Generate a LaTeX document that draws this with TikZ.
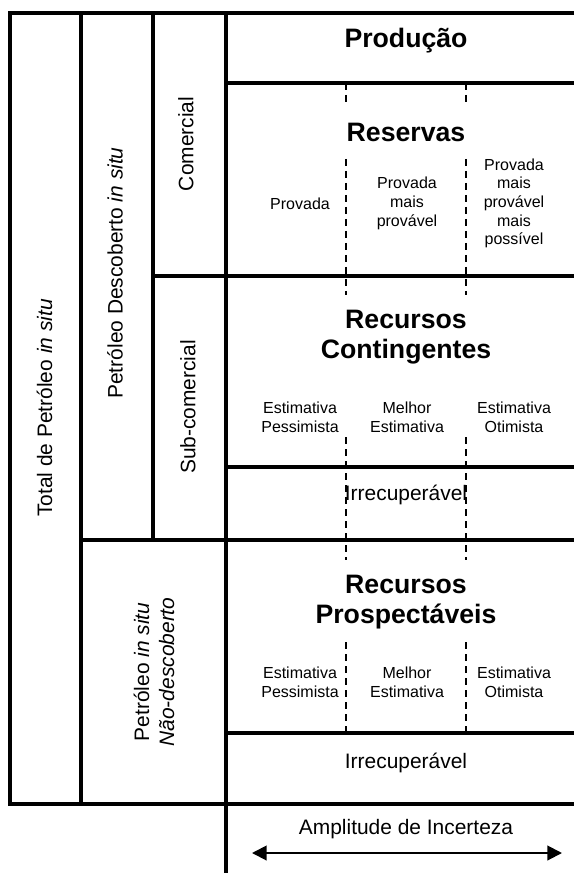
\documentclass[tikz,border=0pt]{standalone}
\usepackage{fontspec}
\setmainfont{Liberation Sans}
\usetikzlibrary{arrows.meta}
\begin{document}
\begin{tikzpicture}[x=0.75pt,y=-0.75pt,
    gridline/.style={line width=2.5pt},
    dashline/.style={line width=1.4pt,dash pattern=on 5pt off 4pt},
    titletxt/.style={font=\bfseries\fontsize{20}{22.5}\selectfont,align=center},
    smalltxt/.style={font=\fontsize{12}{14}\selectfont,align=center},
    bigtxt/.style={font=\fontsize{15.7}{18.8}\selectfont,align=center},
    sidetxt/.style={bigtxt,rotate=90}]
  \useasboundingbox (0,0) rectangle (574,873);
  % linhas tracejadas (amplitude)
  \foreach \xd in {346,466}
    \foreach \ya/\yb in {83/103,159/295,437/560,642/733}
      \draw[dashline] (\xd,\ya) -- (\xd,\yb);
  % quadro
  \draw[gridline] (574,13) -- (10,13) -- (10,804) -- (574,804);
  \draw[gridline] (81,13) -- (81,804);
  \draw[gridline] (153,13) -- (153,540);
  \draw[gridline] (226,13) -- (226,873);
  \foreach \yl/\xl in {83/226,276/153,467/226,540/81,733/226}
    \draw[gridline] (\xl,\yl) -- (574,\yl);
  % colunas da esquerda
  \node[sidetxt] (total) at (44.5,408) {Total de Petróleo \textit{in situ}};
  \node[sidetxt] (desc) at (115,273) {Petróleo Descoberto \textit{in situ}};
  \node[sidetxt] (com) at (186,144) {Comercial};
  \node[sidetxt] (subcom) at (188,407) {Sub-comercial};
  \node[sidetxt] (naodesc) at (154,672) {Petróleo \textit{in situ}\\\textit{Não-descoberto}};
  % producao e reservas
  \node[titletxt] (prod) at (406,41) {Produção};
  \node[titletxt] (res) at (406,132) {Reservas};
  \node[smalltxt] (res1) at (300,203.5) {Provada};
  \node[smalltxt] (res2) at (407,203.5) {Provada\\mais\\provável};
  \node[smalltxt] (res3) at (514,203.5) {Provada\\mais\\provável\\mais\\possível};
  % recursos contingentes
  \node[titletxt] (cont) at (406,337) {Recursos\\Contingentes};
  \node[smalltxt] (cont1) at (300,417) {Estimativa\\Pessimista};
  \node[smalltxt] (cont2) at (407,417) {Melhor\\Estimativa};
  \node[smalltxt] (cont3) at (514,417) {Estimativa\\Otimista};
  \node[bigtxt] (contirr) at (406,495) {Irrecuperável};
  % recursos prospectaveis
  \node[titletxt] (prosp) at (406,602) {Recursos\\Prospectáveis};
  \node[smalltxt] (prosp1) at (300,682) {Estimativa\\Pessimista};
  \node[smalltxt] (prosp2) at (407,682) {Melhor\\Estimativa};
  \node[smalltxt] (prosp3) at (514,682) {Estimativa\\Otimista};
  \node[bigtxt] (prospirr) at (406,762.5) {Irrecuperável};
  % amplitude de incerteza
  \node[bigtxt] (ampl) at (406,829) {Amplitude de Incerteza};
  \coordinate (amplL) at (252,853);
  \coordinate (amplR) at (562,853);
  \draw[{Triangle[length=11pt,width=11pt]}-{Triangle[length=11pt,width=11pt]},line width=1.5pt] (amplL) -- (amplR);
\end{tikzpicture}
\end{document}
